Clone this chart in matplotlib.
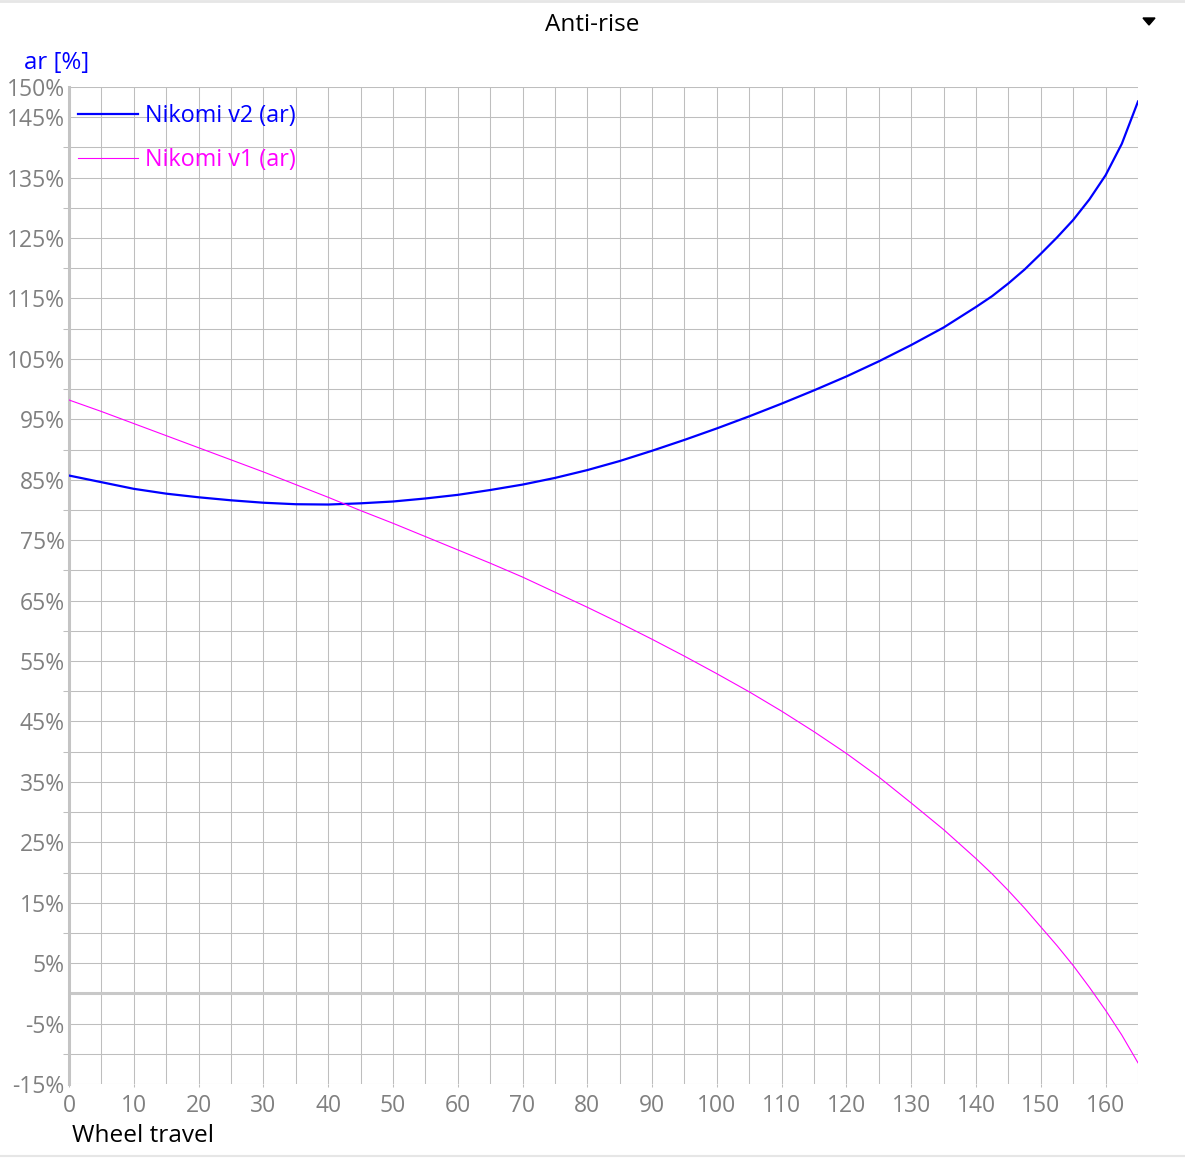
import matplotlib
matplotlib.use("Agg")
import matplotlib.pyplot as plt
from matplotlib.lines import Line2D
from matplotlib.patches import Polygon
from matplotlib.ticker import FixedLocator, FuncFormatter

plt.rcParams['font.family'] = ['Open Sans', 'DejaVu Sans']

# wheel travel [mm]
travel = [0, 5, 10, 15, 20, 25, 30, 35, 40, 45, 50, 55, 60, 65, 70, 75, 80,
          85, 90, 95, 100, 105, 110, 115, 120, 125, 130, 135, 140, 142.5, 145,
          147.5, 150, 152.5, 155, 157.5, 160, 162.5, 165]

# anti-rise [%]
ar_v2 = [85.7, 84.6, 83.5, 82.7, 82.1, 81.6, 81.2, 80.95, 80.9, 81.1, 81.4,
         81.9, 82.5, 83.3, 84.2, 85.3, 86.6, 88.1, 89.8, 91.6, 93.5, 95.5,
         97.6, 99.8, 102.1, 104.6, 107.3, 110.2, 113.6, 115.4, 117.5, 119.8,
         122.4, 125.1, 128.0, 131.4, 135.4, 140.6, 147.6]

ar_v1 = [98.2, 96.3, 94.3, 92.3, 90.3, 88.3, 86.3, 84.2, 82.1, 79.9, 77.8,
         75.6, 73.4, 71.2, 68.9, 66.4, 63.9, 61.3, 58.6, 55.8, 52.9, 49.9,
         46.7, 43.3, 39.7, 35.8, 31.5, 27.1, 22.3, 19.75, 17.0, 14.1, 11.0,
         7.9, 4.6, 1.0, -2.8, -6.9, -11.5]

series_names = ["Nikomi v2 (ar)", "Nikomi v1 (ar)"]

y_labeled = [150, 145, 135, 125, 115, 105, 95, 85, 75, 65, 55, 45, 35, 25, 15, 5, -5, -15]
y_other = [140, 130, 120, 110, 100, 90, 80, 70, 60, 50, 40, 30, 20, 10, -10]
x_labeled = list(range(0, 161, 10))
x_other = list(range(5, 166, 10))

W, H = 1185, 1158
fig = plt.figure(figsize=(W / 100, H / 100), dpi=100)
L, R, T, B = 69, 1138, 87, 1084
ax = fig.add_axes([L / W, 1 - B / H, (R - L) / W, (B - T) / H])

grid_c = '#bebebe'
lab_c = '#808080'

ax.set_xlim(0, 165)
ax.set_ylim(-15, 150)

ax.xaxis.set_major_locator(FixedLocator(x_labeled))
ax.xaxis.set_minor_locator(FixedLocator(x_other))
ax.yaxis.set_major_locator(FixedLocator(y_labeled))
ax.yaxis.set_minor_locator(FixedLocator(y_other))
ax.yaxis.set_major_formatter(FuncFormatter(lambda v, p: f"{v:.0f}%"))

ax.grid(True, which='both', color=grid_c, lw=0.75)
ax.set_axisbelow(True)
for s in ['top', 'right', 'bottom']:
    ax.spines[s].set_visible(False)
ax.spines['left'].set_color('#c4c4c4')
ax.spines['left'].set_linewidth(2.2)

ax.tick_params(axis='y', which='major', length=0, pad=3, labelsize=16.5, labelcolor=lab_c)
ax.tick_params(axis='y', which='minor', length=4.5, width=0.75, color=grid_c)
ax.tick_params(axis='x', which='major', length=2.5, width=0.75, color=grid_c, pad=4.5,
               labelsize=16.5, labelcolor=lab_c)
ax.tick_params(axis='x', which='minor', length=0)

ax.axhline(0, color='#c8c8c8', lw=2.2, zorder=1.5)

ax.plot(travel, ar_v2, color='#0000ff', lw=1.6, label=series_names[0], zorder=3)
ax.plot(travel, ar_v1, color='#ff00ff', lw=0.8, label=series_names[1], zorder=3)

leg = ax.legend(loc='upper left', bbox_to_anchor=((78 - L) / (R - L), 1 - (104.5 - T) / (B - T)),
                frameon=False, fontsize=16.8, handlelength=2.57, handletextpad=0.3,
                labelspacing=0.85, borderpad=0, borderaxespad=0, labelcolor='linecolor')

fig.text(592 / W, 1 - 25 / H, "Anti-rise", ha='center', va='center', fontsize=17.5, color='black')
fig.text(24 / W, 1 - 63 / H, "ar [%]", ha='left', va='center', fontsize=17.3, color='#0000ff')
fig.text(72 / W, 1 - 1136 / H, "Wheel travel", ha='left', va='center', fontsize=17.6, color='black')

# dropdown arrow and panel borders
fig.add_artist(Polygon([[1143 / W, 1 - 18 / H], [1155 / W, 1 - 18 / H], [1149 / W, 1 - 25 / H]],
                       closed=True, color='black', transform=fig.transFigure))
fig.add_artist(Line2D([0, 1], [1 - 1 / H, 1 - 1 / H], color='#e6e6e6', lw=2,
                      transform=fig.transFigure))
fig.add_artist(Line2D([0, 1], [1 - 1156 / H, 1 - 1156 / H], color='#e6e6e6', lw=1.5,
                      transform=fig.transFigure))

fig.savefig("out.png", dpi=100)
